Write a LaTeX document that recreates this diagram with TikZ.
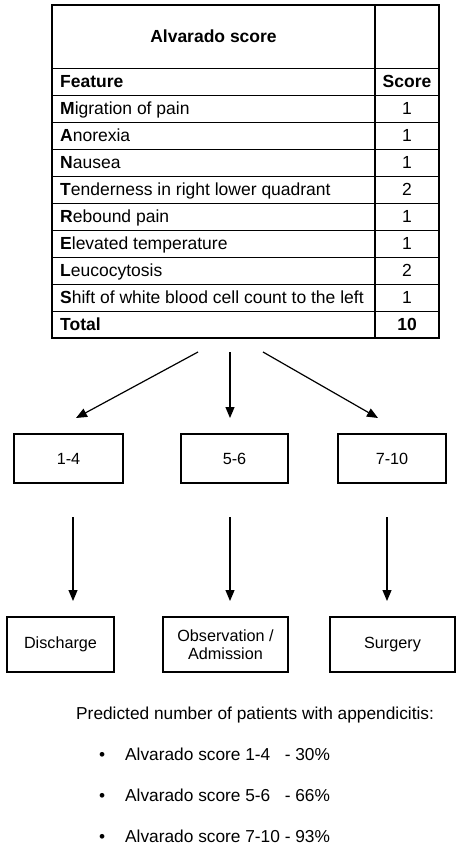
\documentclass[tikz,border=0pt]{standalone}
\usepackage{fontspec}
\setmainfont{Liberation Sans}
\usepackage{calc}
\usetikzlibrary{arrows.meta}
\begin{document}
\begin{tikzpicture}[x=1pt,y=-1pt,
  tline/.style={line width=1.1pt},
  iline/.style={line width=0.9pt},
  cell/.style={anchor=base west,inner sep=0pt,font=\fontsize{17.5}{20}\selectfont},
  scell/.style={anchor=base,inner sep=0pt,font=\fontsize{17.5}{20}\selectfont},
  box/.style={draw,line width=1.1pt,font=\fontsize{16.2}{19}\selectfont,align=center,inner sep=0pt},
  arr/.style={line width=1.2pt,-{Triangle[length=11pt,width=9pt]}},
  btxt/.style={anchor=base west,inner sep=0pt,font=\fontsize{17.3}{20}\selectfont}]
\useasboundingbox (0,0) rectangle (456,848);
% table
\draw[iline] (52,68) -- (439,68);
\foreach \k in {1,...,9} {\draw[iline] (52,68+27*\k) -- (439,68+27*\k);}
\draw[tline] (375,5) -- (375,338);
\draw[tline] (52,5) rectangle (439,338);
\node[scell,font=\fontsize{17.5}{20}\selectfont\bfseries] (title) at (213.5,42.5) {Alvarado score};
\foreach \t/\s [count=\i] in {\textbf{Feature}/\textbf{Score},
  \textbf{M}igration of pain/1,
  \textbf{A}norexia/1,
  \textbf{N}ausea/1,
  \textbf{T}enderness in right lower quadrant/2,
  \textbf{R}ebound pain/1,
  \textbf{E}levated temperature/1,
  \textbf{L}eucocytosis/2,
  \textbf{S}hift of white blood cell count to the left/1,
  \textbf{Total}/\textbf{10}} {
  \node[cell] (r\i) at (60,60.5+27*\i) {\t};
  \node[scell] (s\i) at (407,60.5+27*\i) {\s};
}
% first row of boxes
\node[box,minimum width=109pt,minimum height=49pt] (b1) at (68.5,458.5) {1-4};
\node[box,minimum width=107pt,minimum height=49pt] (b2) at (234.5,458.5) {5-6};
\node[box,minimum width=108pt,minimum height=49pt] (b3) at (392,458.5) {7-10};
% arrows from table
\coordinate (a1s) at (198,352); \coordinate (a1e) at (76,418);
\coordinate (a2s) at (230,352); \coordinate (a2e) at (230,418);
\coordinate (a3s) at (263,352); \coordinate (a3e) at (378,418);
\draw[arr] (a1s) -- (a1e);
\draw[arr] (a2s) -- (a2e);
\draw[arr] (a3s) -- (a3e);
% second arrows
\coordinate (c1s) at (73,517); \coordinate (c1e) at (73,601);
\coordinate (c2s) at (230,517); \coordinate (c2e) at (230,601);
\coordinate (c3s) at (387,517); \coordinate (c3e) at (387,601);
\draw[arr] (c1s) -- (c1e);
\draw[arr] (c2s) -- (c2e);
\draw[arr] (c3s) -- (c3e);
% second row of boxes
\node[box,minimum width=107pt,minimum height=55pt] (d1) at (60.5,644.5) {Discharge};
\node[box,minimum width=125pt,minimum height=55pt] (d2) at (225.5,644.5) {Observation /\\[-1pt]Admission};
\node[box,minimum width=125pt,minimum height=55pt] (d3) at (392.5,644.5) {Surgery};
% bottom text
\node[btxt] (pred) at (76,719.5) {Predicted number of patients with appendicitis:};
\foreach \a/\b/\yy [count=\j] in {1-4/30/760, 5-6/66/801, 7-10/93/842} {
  \node[btxt] (bul\j) at (99,\yy) {•};
  \node[btxt] (li\j) at (125,\yy) {\makebox[\widthof{Alvarado score 7-10 }][l]{Alvarado score \a}- \b\%};
}
\end{tikzpicture}
\end{document}
